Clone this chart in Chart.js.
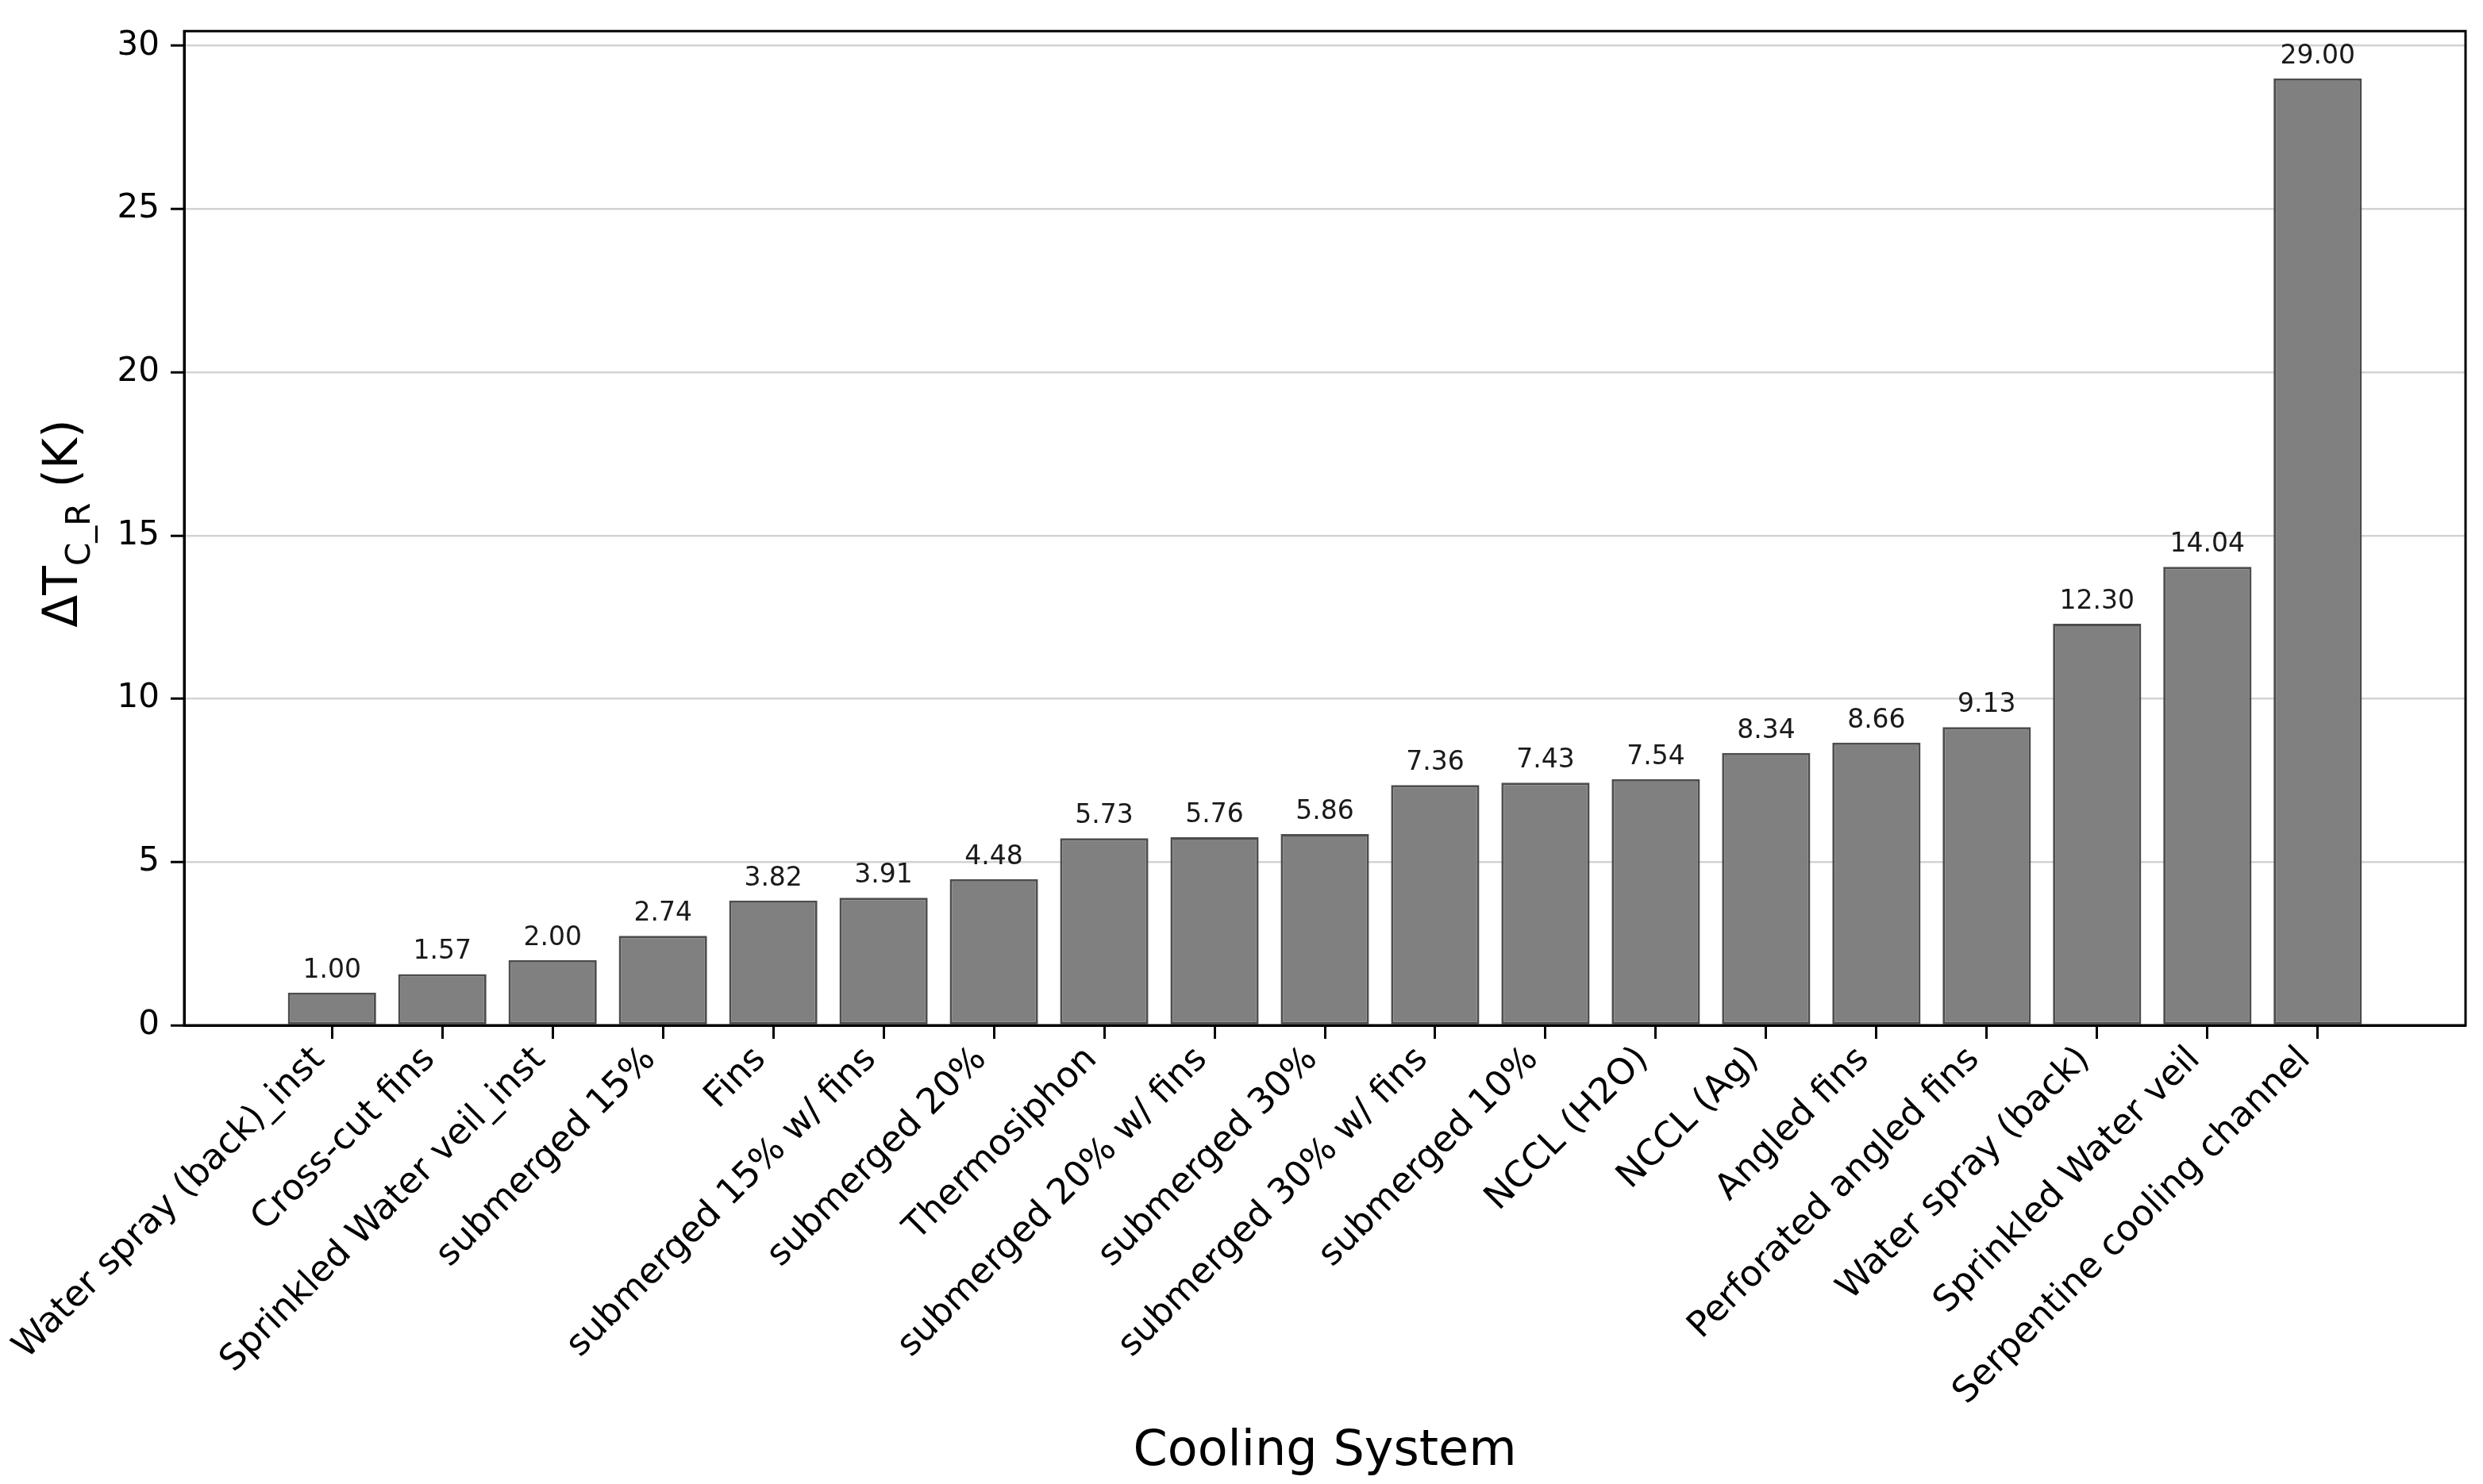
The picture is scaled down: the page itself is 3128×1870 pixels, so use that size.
<!DOCTYPE html>
<html>
<head>
<meta charset="utf-8">
<script src="https://cdn.jsdelivr.net/npm/chart.js@4.4.1/dist/chart.umd.min.js"></script>
<style>
html,body{margin:0;padding:0;background:#fff;}
canvas{display:block;}
</style>
</head>
<body>
<canvas id="c" width="3128" height="1870"></canvas>
<script>
const categories = [
  "Water spray (back)_inst", "Cross-cut fins", "Sprinkled Water veil_inst",
  "submerged 15%", "Fins", "submerged 15% w/ fins", "submerged 20%",
  "Thermosiphon", "submerged 20% w/ fins", "submerged 30%",
  "submerged 30% w/ fins", "submerged 10%", "NCCL (H2O)", "NCCL (Ag)",
  "Angled fins", "Perforated angled fins", "Water spray (back)",
  "Sprinkled Water veil", "Serpentine cooling channel"
];
const deltaT = [1.00, 1.57, 2.00, 2.74, 3.82, 3.91, 4.48, 5.73, 5.76, 5.86,
                7.36, 7.43, 7.54, 8.34, 8.66, 9.13, 12.30, 14.04, 29.00];
const yTicks = [0, 5, 10, 15, 20, 25, 30];
const xTitle = "Cooling System";
const yTitleMain = "\u0394T";
const yTitleSub = "C_R";
const yTitleTail = " (K)";

const FONT = "'DejaVu Sans', 'Liberation Sans', sans-serif";

const valueLabels = {
  id: 'valueLabels',
  afterDraw(chart) {
    const ctx = chart.ctx;
    const meta = chart.getDatasetMeta(0);
    ctx.save();
    ctx.font = "33px " + FONT;
    ctx.fillStyle = "#1a1a1a";
    ctx.textAlign = "center";
    ctx.textBaseline = "bottom";
    meta.data.forEach((bar, i) => {
      ctx.fillText(deltaT[i].toFixed(2), bar.x, bar.y - 11);
    });
    ctx.restore();
  }
};

const frame = {
  id: 'frame',
  afterDraw(chart) {
    const a = chart.chartArea;
    const ctx = chart.ctx;
    ctx.save();
    ctx.strokeStyle = "#000";
    ctx.lineWidth = 3;
    ctx.strokeRect(a.left, a.top, a.right - a.left, a.bottom - a.top);
    ctx.restore();
  }
};

const yTitle = {
  id: 'yTitle',
  afterDraw(chart) {
    const ctx = chart.ctx;
    const a = chart.chartArea;
    ctx.save();
    const mainFont = "60px " + FONT;
    const subFont = "42px " + FONT;
    ctx.font = mainFont;
    const w1 = ctx.measureText(yTitleMain).width;
    const w3 = ctx.measureText(yTitleTail).width;
    ctx.font = subFont;
    const w2 = ctx.measureText(yTitleSub).width;
    const total = w1 + w2 + w3;
    const cy = (a.top + a.bottom) / 2 - 6;
    ctx.translate(97, cy);
    ctx.rotate(-Math.PI / 2);
    ctx.fillStyle = "#000";
    ctx.textBaseline = "alphabetic";
    ctx.textAlign = "left";
    let x = -total / 2;
    ctx.font = mainFont;
    ctx.fillText(yTitleMain, x, 0);
    x += w1;
    ctx.font = subFont;
    ctx.fillText(yTitleSub, x, 16);
    x += w2;
    ctx.font = mainFont;
    ctx.fillText(yTitleTail, x, 0);
    ctx.restore();
  }
};

new Chart(document.getElementById('c'), {
  type: 'bar',
  data: {
    datasets: [{
      data: deltaT.map((v, i) => ({ x: i, y: v })),
      backgroundColor: '#808080',
      borderColor: '#4d4d4d',
      borderWidth: 3,
      borderSkipped: false,
      barPercentage: 0.8,
      categoryPercentage: 1.0
    }]
  },
  options: {
    responsive: false,
    devicePixelRatio: 1,
    animation: false,
    layout: { padding: { top: 30, right: 22, left: 0, bottom: 0 } },
    plugins: { legend: { display: false }, tooltip: { enabled: false } },
    scales: {
      x: {
        type: 'linear',
        offset: false,
        min: -1.34,
        max: 19.34,
        z: 1,
        afterBuildTicks(scale) { scale.ticks = categories.map((_, i) => ({ value: i })); },
        afterFit(scale) { scale.height = 578; scale.paddingLeft = 0; scale.paddingRight = 0; },
        ticks: {
          autoSkip: false,
          minRotation: 45,
          maxRotation: 45,
          padding: 0,
          labelOffset: -16,
          color: '#000',
          font: { family: FONT, size: 45 },
          callback: (v) => categories[v]
        },
        grid: { offset: false, drawOnChartArea: false, drawTicks: true, tickLength: 17, tickWidth: 3, tickColor: '#000' },
        border: { display: true, color: '#000', width: 3 },
        title: {
          display: true, text: xTitle, color: '#000',
          font: { family: FONT, size: 62 },
          padding: { top: 0, bottom: 3 }
        }
      },
      y: {
        min: 0,
        max: 30.45,
        z: 1,
        afterBuildTicks(scale) { scale.ticks = yTicks.map(v => ({ value: v })); },
        afterFit(scale) { scale.width = 232; },
        ticks: {
          padding: 14,
          color: '#000',
          font: { family: FONT, size: 42 },
          callback: (v) => String(v)
        },
        grid: {
          color: (c) => (c.tick && c.tick.value === 0) ? 'rgba(0,0,0,0)' : '#d3d3d3',
          lineWidth: 2.5,
          drawTicks: true, tickLength: 17, tickWidth: 3, tickColor: '#000'
        },
        border: { display: true, color: '#000', width: 3 }
      }
    }
  },
  plugins: [valueLabels, frame, yTitle]
});
</script>
</body>
</html>
